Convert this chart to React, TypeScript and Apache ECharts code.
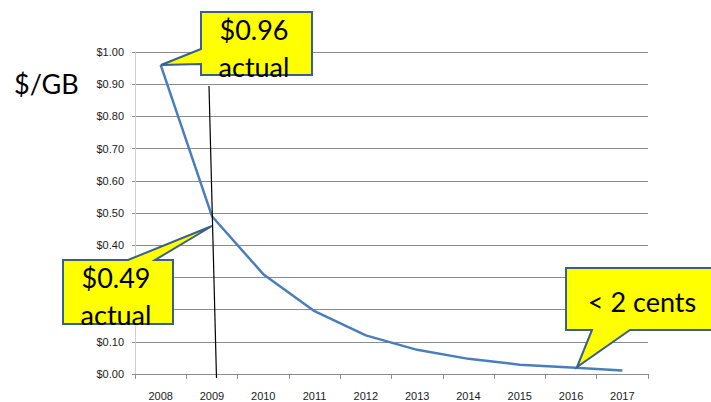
import React, { useEffect, useRef } from "react";
import * as echarts from "echarts";

const years = ["2008", "2009", "2010", "2011", "2012", "2013", "2014", "2015", "2016", "2017"];
const pricePerGB = [0.96, 0.49, 0.31, 0.195, 0.12, 0.075, 0.047, 0.029, 0.02, 0.011];
const yTickValues = [0, 0.1, 0.2, 0.3, 0.4, 0.5, 0.6, 0.7, 0.8, 0.9, 1.0];
const yAxisTitle = "$/GB";
const calloutTop = ["$0.96", "actual"];
const calloutLeft = ["$0.49", "actual"];
const calloutRight = "< 2 cents";

const BIG_FONT = "Lato, 'Open Sans', sans-serif";
const SMALL_FONT = "'Liberation Sans', Arial, sans-serif";
const calloutStyle = { fill: "#ffff00", stroke: "#3a5f8c", lineWidth: 2, lineJoin: "miter" as const };

function bigText(lines: string[] | string, x: number, y: number) {
  const text = Array.isArray(lines) ? lines.join("\n") : lines;
  return {
    type: "text",
    z: 20,
    style: {
      text,
      x,
      y,
      fill: "#000",
      fontSize: 27,
      lineHeight: 37,
      fontFamily: BIG_FONT,
      align: "center",
      verticalAlign: "middle",
    },
  };
}

export default function App() {
  const ref = useRef<HTMLDivElement>(null);
  useEffect(() => {
    if (!ref.current) return;
    const chart = echarts.init(ref.current, null, { renderer: "svg" });
    chart.setOption({
      animation: false,
      backgroundColor: "#ffffff",
      grid: { left: 135, right: 63, top: 52, bottom: 28, containLabel: false },
      xAxis: {
        type: "category",
        data: years,
        boundaryGap: true,
        axisLine: { show: true, lineStyle: { color: "#8c8c8c", width: 1 } },
        axisTick: { show: true, length: 5, lineStyle: { color: "#8c8c8c" } },
        axisLabel: { color: "#1a1a1a", fontSize: 11, fontFamily: SMALL_FONT, margin: 16 },
        splitLine: { show: false },
      },
      yAxis: {
        type: "value",
        min: 0,
        max: 1,
        interval: 0.1,
        axisLine: { show: true, lineStyle: { color: "#d0d0d0", width: 1 } },
        axisTick: { show: true, length: 3, lineStyle: { color: "#8c8c8c" } },
        axisLabel: {
          color: "#1a1a1a",
          fontSize: 11,
          fontFamily: SMALL_FONT,
          margin: 11,
          formatter: (v: number) => {
            const match = yTickValues.find((t) => Math.abs(t - v) < 1e-6);
            return "$" + (match ?? v).toFixed(2);
          },
        },
        splitLine: { show: true, lineStyle: { color: "#8c8c8c", width: 1 } },
      },
      series: [
        {
          type: "line",
          data: pricePerGB,
          symbol: "none",
          smooth: false,
          lineStyle: { color: "#4a7ebb", width: 2.5 },
          z: 3,
        },
      ],
      graphic: [
        {
          type: "text",
          z: 20,
          style: {
            text: yAxisTitle,
            x: 14,
            y: 83,
            fill: "#000",
            fontSize: 27,
            fontFamily: BIG_FONT,
            align: "left",
            verticalAlign: "middle",
          },
        },
        {
          type: "line",
          z: 10,
          shape: { x1: 209, y1: 86, x2: 216.5, y2: 378 },
          style: { stroke: "#000", lineWidth: 1.2 },
        },
        {
          type: "polygon",
          z: 15,
          shape: {
            points: [
              [201, 12], [312, 12], [312, 75], [201, 75], [201, 64], [161, 65], [201, 49],
            ],
          },
          style: calloutStyle,
        },
        bigText(calloutTop, 254, 47.5),
        {
          type: "polygon",
          z: 15,
          shape: {
            points: [
              [63, 260], [128, 260], [212, 226], [155, 260], [173, 260], [173, 324], [63, 324],
            ],
          },
          style: calloutStyle,
        },
        bigText(calloutLeft, 116, 295.5),
        {
          type: "polygon",
          z: 15,
          shape: {
            points: [
              [566, 268], [716, 268], [716, 330], [630, 330], [577, 367], [592, 330], [566, 330],
            ],
          },
          style: calloutStyle,
        },
        bigText(calloutRight, 642, 301),
      ],
    });
    return () => chart.dispose();
  }, []);
  return <div ref={ref} style={{ width: 711, height: 402, position: "fixed", left: 0, top: 0 }} />;
}
